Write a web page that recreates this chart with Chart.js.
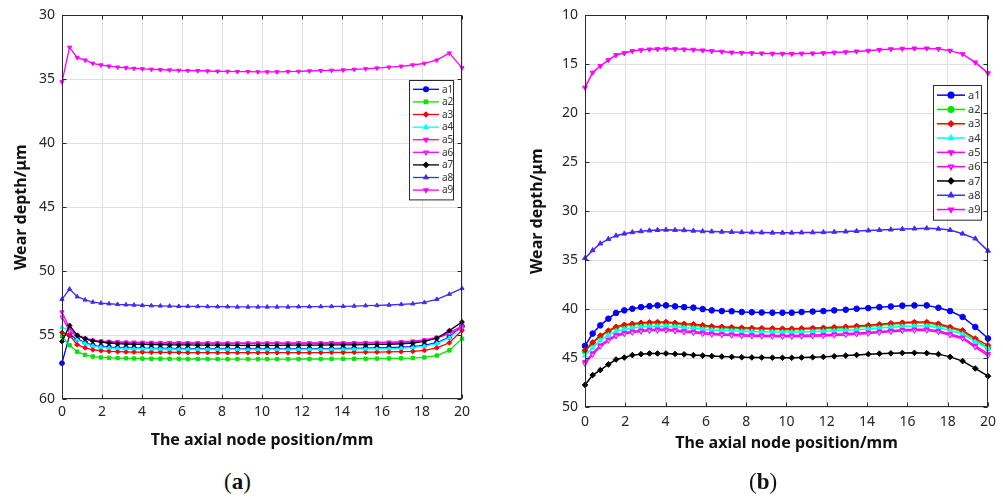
<!DOCTYPE html>
<html>
<head>
<meta charset="utf-8">
<script src="https://cdn.jsdelivr.net/npm/chart.js@4.4.1/dist/chart.umd.min.js"></script>
<style>
  html, body { margin: 0; padding: 0; background: #fff; }
  body { width: 1003px; height: 499px; position: relative; overflow: hidden; }
  .panel { position: absolute; top: 0; }
  #panelA { left: 0; width: 500px; height: 462px; }
  #panelB { left: 500px; width: 503px; height: 470px; }
  .caption { position: absolute; top: 469px; font-family: 'Liberation Serif', serif; font-size: 23px; color: #111; }
</style>
</head>
<body>
<div class="panel" id="panelA"><canvas id="chartA"></canvas></div>
<div class="panel" id="panelB"><canvas id="chartB"></canvas></div>
<div class="caption" style="left:224px">(<b>a</b>)</div>
<div class="caption" style="left:749px">(<b>b</b>)</div>
<script>
// axial node positions (mm), shared by both panels
const nodePos = [0, 0.38, 0.76, 1.16, 1.54, 1.95, 2.35, 2.78, 3.2, 3.6,
  4.02, 4.47, 4.92, 5.38, 5.84, 6.29, 6.79, 7.28, 7.78, 8.28,
  8.77, 9.3, 9.8, 10.26, 10.75, 11.3, 11.83, 12.37, 12.94, 13.48,
  14.06, 14.61, 15.18, 15.75, 16.35, 16.96, 17.54, 18.12, 18.74, 19.37,
  20];

const seriesNames = ["a1", "a2", "a3", "a4", "a5", "a6", "a7", "a8", "a9"];

// ---- panel (a) wear depth, um ----
const a1A = [57.2, 55.0, 55.3, 55.6, 55.8, 55.9, 55.95, 55.98, 56.0, 56.02,
  56.03, 56.04, 56.05, 56.05, 56.06, 56.06, 56.07, 56.07, 56.07, 56.08,
  56.08, 56.08, 56.08, 56.08, 56.08, 56.08, 56.07, 56.07, 56.06, 56.06,
  56.05, 56.04, 56.02, 56.0, 55.98, 55.95, 55.9, 55.8, 55.6, 55.15,
  54.3];
const a2A = [55.1, 55.8, 56.3, 56.55, 56.68, 56.75, 56.78, 56.8, 56.82, 56.83,
  56.84, 56.85, 56.85, 56.86, 56.86, 56.87, 56.87, 56.87, 56.88, 56.88,
  56.88, 56.88, 56.88, 56.88, 56.88, 56.88, 56.87, 56.87, 56.87, 56.86,
  56.86, 56.85, 56.85, 56.84, 56.83, 56.82, 56.8, 56.75, 56.6, 56.2,
  55.28];
const a3A = [54.8, 55.0, 55.75, 56.0, 56.15, 56.22, 56.27, 56.3, 56.32, 56.33,
  56.34, 56.35, 56.35, 56.36, 56.36, 56.37, 56.37, 56.37, 56.38, 56.38,
  56.38, 56.38, 56.38, 56.38, 56.38, 56.38, 56.37, 56.37, 56.37, 56.36,
  56.36, 56.35, 56.34, 56.33, 56.32, 56.3, 56.27, 56.2, 56.0, 55.6,
  54.63];
const a4A = [54.4, 54.6, 55.35, 55.65, 55.85, 55.95, 56.0, 56.03, 56.05, 56.06,
  56.07, 56.08, 56.09, 56.09, 56.1, 56.1, 56.11, 56.11, 56.11, 56.12,
  56.12, 56.12, 56.12, 56.12, 56.12, 56.12, 56.11, 56.11, 56.11, 56.1,
  56.1, 56.09, 56.08, 56.07, 56.05, 56.02, 55.97, 55.87, 55.67, 55.22,
  54.37];
const a5A = [53.2, 54.5, 55.0, 55.25, 55.4, 55.47, 55.5, 55.53, 55.55, 55.56,
  55.57, 55.58, 55.59, 55.59, 55.6, 55.6, 55.61, 55.61, 55.61, 55.62,
  55.62, 55.62, 55.62, 55.62, 55.62, 55.62, 55.61, 55.61, 55.61, 55.6,
  55.6, 55.59, 55.58, 55.57, 55.55, 55.52, 55.47, 55.38, 55.18, 54.8,
  54.3];
const a6A = [53.6, 54.7, 55.05, 55.3, 55.45, 55.52, 55.55, 55.58, 55.6, 55.61,
  55.62, 55.63, 55.64, 55.64, 55.65, 55.65, 55.66, 55.66, 55.66, 55.67,
  55.67, 55.67, 55.67, 55.67, 55.67, 55.67, 55.66, 55.66, 55.66, 55.65,
  55.65, 55.64, 55.63, 55.62, 55.6, 55.57, 55.52, 55.43, 55.23, 54.88,
  54.45];
const a7A = [55.5, 54.25, 55.02, 55.28, 55.46, 55.55, 55.62, 55.67, 55.7, 55.72,
  55.73, 55.74, 55.75, 55.76, 55.77, 55.77, 55.78, 55.78, 55.79, 55.79,
  55.8, 55.8, 55.8, 55.8, 55.8, 55.79, 55.79, 55.78, 55.78, 55.77,
  55.77, 55.76, 55.75, 55.73, 55.72, 55.68, 55.62, 55.5, 55.25, 54.65,
  53.98];
const a8A = [52.2, 51.4, 52.0, 52.25, 52.42, 52.5, 52.55, 52.6, 52.63, 52.65,
  52.68, 52.7, 52.72, 52.73, 52.75, 52.75, 52.76, 52.77, 52.78, 52.78,
  52.8, 52.8, 52.8, 52.8, 52.8, 52.8, 52.78, 52.78, 52.77, 52.76,
  52.75, 52.73, 52.7, 52.68, 52.65, 52.6, 52.55, 52.45, 52.2, 51.8,
  51.35];
const a9A = [35.2, 32.5, 33.3, 33.5, 33.75, 33.88, 33.97, 34.05, 34.1, 34.15,
  34.18, 34.22, 34.25, 34.27, 34.3, 34.32, 34.33, 34.35, 34.37, 34.38,
  34.4, 34.4, 34.42, 34.42, 34.42, 34.4, 34.38, 34.35, 34.32, 34.3,
  34.27, 34.22, 34.18, 34.12, 34.05, 33.98, 33.88, 33.75, 33.5, 32.95,
  34.1];

// ---- panel (b) wear depth, um ----
const a1B = [43.76, 42.5, 41.66, 40.98, 40.4, 40.13, 39.96, 39.8, 39.7, 39.62,
  39.62, 39.72, 39.8, 39.85, 40.0, 40.13, 40.2, 40.22, 40.3, 40.32,
  40.35, 40.37, 40.37, 40.37, 40.3, 40.25, 40.2, 40.13, 40.06, 39.96,
  39.9, 39.8, 39.73, 39.65, 39.62, 39.62, 39.86, 40.2, 40.8, 41.83,
  43.0];
const a2B = [44.3, 43.5, 42.8, 42.3, 41.9, 41.7, 41.6, 41.5, 41.45, 41.42,
  41.42, 41.5, 41.6, 41.65, 41.75, 41.85, 41.9, 41.95, 42.0, 42.03,
  42.05, 42.07, 42.1, 42.1, 42.07, 42.03, 42.0, 41.95, 41.9, 41.82,
  41.75, 41.65, 41.55, 41.48, 41.42, 41.42, 41.6, 41.95, 42.3, 43.15,
  43.95];
const a3B = [44.2, 43.4, 42.7, 42.2, 41.8, 41.6, 41.5, 41.4, 41.35, 41.32,
  41.32, 41.4, 41.5, 41.55, 41.65, 41.75, 41.8, 41.85, 41.9, 41.93,
  41.95, 41.97, 42.0, 42.0, 41.97, 41.93, 41.9, 41.85, 41.8, 41.72,
  41.65, 41.55, 41.45, 41.38, 41.32, 41.32, 41.49, 41.83, 42.17, 43.0,
  43.7];
const a4B = [44.75, 43.95, 43.2, 42.65, 42.25, 42.05, 41.92, 41.82, 41.77, 41.74,
  41.74, 41.8, 41.9, 41.95, 42.05, 42.13, 42.18, 42.22, 42.27, 42.3,
  42.32, 42.33, 42.35, 42.35, 42.33, 42.3, 42.27, 42.22, 42.17, 42.1,
  42.03, 41.93, 41.85, 41.78, 41.73, 41.73, 41.88, 42.2, 42.55, 43.35,
  44.0];
const a5B = [45.4, 44.5, 43.7, 43.1, 42.65, 42.42, 42.28, 42.17, 42.1, 42.07,
  42.07, 42.14, 42.24, 42.3, 42.4, 42.48, 42.54, 42.58, 42.63, 42.66,
  42.68, 42.69, 42.7, 42.7, 42.68, 42.65, 42.62, 42.57, 42.52, 42.45,
  42.38, 42.28, 42.2, 42.12, 42.07, 42.07, 42.22, 42.55, 42.9, 43.75,
  44.55];
const a6B = [45.6, 44.65, 43.83, 43.22, 42.77, 42.54, 42.4, 42.29, 42.22, 42.19,
  42.19, 42.26, 42.36, 42.42, 42.52, 42.6, 42.66, 42.7, 42.75, 42.78,
  42.8, 42.81, 42.82, 42.82, 42.8, 42.77, 42.74, 42.69, 42.64, 42.57,
  42.5, 42.4, 42.32, 42.24, 42.19, 42.19, 42.34, 42.67, 43.02, 43.9,
  44.75];
const a7B = [47.75, 46.74, 46.23, 45.65, 45.15, 44.95, 44.7, 44.6, 44.53, 44.53,
  44.53, 44.58, 44.62, 44.7, 44.75, 44.8, 44.85, 44.88, 44.92, 44.94,
  44.95, 44.96, 44.97, 44.97, 44.95, 44.92, 44.88, 44.82, 44.75, 44.68,
  44.6, 44.55, 44.52, 44.48, 44.47, 44.5, 44.6, 44.88, 45.31, 46.06,
  46.85];
const a8B = [34.8, 34.0, 33.3, 32.85, 32.5, 32.3, 32.15, 32.05, 31.98, 31.93,
  31.9, 31.92, 31.95, 32.0, 32.05, 32.08, 32.1, 32.13, 32.15, 32.17,
  32.18, 32.2, 32.2, 32.2, 32.18, 32.17, 32.15, 32.12, 32.08, 32.03,
  31.98, 31.93, 31.88, 31.83, 31.78, 31.75, 31.8, 31.93, 32.3, 32.8,
  34.05];
const a9B = [17.37, 15.84, 15.17, 14.56, 14.05, 13.85, 13.64, 13.54, 13.47, 13.44,
  13.4, 13.44, 13.47, 13.5, 13.57, 13.64, 13.7, 13.78, 13.82, 13.85,
  13.88, 13.9, 13.92, 13.92, 13.9, 13.88, 13.85, 13.8, 13.75, 13.68,
  13.6, 13.52, 13.45, 13.4, 13.37, 13.37, 13.42, 13.6, 13.95, 14.8,
  15.9];

// line / marker look of each series (matlab-ish colour codes)
const lineColors = ["#0000ff", "#00e600", "#ff0000", "#00ffff", "#ff00ff", "#ff00ff", "#000000", "#3333ff", "#ff00ff"];
const markerFill = ["#0000ff", "#00e600", "#ff0000", "#00ffff", "#ff00ff", "#8cc8ff", "#000000", "#a000e0", "#ff00ff"];
const markerRot = [0, 0, 0, 0, 180, 180, 0, 0, 180];

Chart.defaults.font.family = "'Noto Sans', sans-serif";
Chart.defaults.color = "#262626";

// box around the plot area with small inward ticks
const axesBox = {
  id: "axesBox",
  afterDatasetsDraw(chart) {
    const { ctx, chartArea: a, scales } = chart;
    ctx.save();
    ctx.strokeStyle = "#2a2a2a";
    ctx.lineWidth = 1;
    const L = Math.round(a.left) + 0.5, R = Math.round(a.right) - 0.5;
    const T = Math.round(a.top) + 0.5, B = Math.round(a.bottom) - 0.5;
    ctx.strokeRect(L, T, R - L, B - T);
    ctx.beginPath();
    scales.x.ticks.forEach((t) => {
      const px = Math.round(scales.x.getPixelForValue(t.value)) + 0.5;
      ctx.moveTo(px, B); ctx.lineTo(px, B - 4);
      ctx.moveTo(px, T); ctx.lineTo(px, T + 4);
    });
    scales.y.ticks.forEach((t) => {
      const py = Math.round(scales.y.getPixelForValue(t.value)) + 0.5;
      ctx.moveTo(L, py); ctx.lineTo(L + 4, py);
      ctx.moveTo(R, py); ctx.lineTo(R - 4, py);
    });
    ctx.stroke();
    ctx.restore();
  },
};

// legend box drawn inside the axes, upper right
const insideLegend = {
  id: "insideLegend",
  afterDraw(chart, args, opts) {
    const { ctx } = chart;
    const ds = chart.data.datasets;
    const h = opts.rowH * ds.length + 6;
    ctx.save();
    ctx.fillStyle = "#fff";
    ctx.fillRect(opts.left, opts.top, opts.width, h);
    ctx.strokeStyle = "#2a2a2a";
    ctx.lineWidth = 1;
    ctx.strokeRect(opts.left + 0.5, opts.top + 0.5, opts.width, h);
    ctx.font = opts.fontSize + "px 'Noto Sans', sans-serif";
    ctx.textBaseline = "middle";
    ds.forEach((d, i) => {
      const y = opts.top + 3 + opts.rowH * (i + 0.5);
      const x0 = opts.left + 4, x1 = x0 + opts.lineLen;
      ctx.strokeStyle = d.borderColor;
      ctx.lineWidth = d.borderWidth;
      ctx.beginPath();
      ctx.moveTo(x0, y);
      ctx.lineTo(x1, y);
      ctx.stroke();
      ctx.fillStyle = d.pointBackgroundColor;
      ctx.strokeStyle = d.pointBorderColor;
      Chart.helpers.drawPoint(ctx, {
        pointStyle: d.pointStyle, rotation: d.pointRotation,
        radius: d.pointRadius, borderWidth: d.pointBorderWidth,
      }, (x0 + x1) / 2, y);
      ctx.fillStyle = "#333";
      ctx.fillText(d.label, x1 + 3, y + 0.5);
    });
    ctx.restore();
  },
};

function buildDatasets(values, styles, radius, width) {
  return values.map((vals, i) => ({
    label: seriesNames[i],
    data: vals.map((v, k) => ({ x: nodePos[k], y: v })),
    borderColor: lineColors[i],
    borderWidth: width,
    pointStyle: styles[i],
    pointRotation: markerRot[i],
    pointRadius: radius,
    pointBackgroundColor: markerFill[i],
    pointBorderColor: lineColors[i],
    pointBorderWidth: 1,
    tension: 0,
    clip: false,
    order: 9 - i,
  }));
}

function buildOptions(cfg) {
  return {
    responsive: true,
    maintainAspectRatio: false,
    animation: false,
    layout: { padding: { left: 0, right: cfg.padRight, top: cfg.padTop, bottom: 0 } },
    plugins: {
      legend: { display: false },
      tooltip: { enabled: false },
      insideLegend: cfg.legend,
    },
    scales: {
      x: {
        type: "linear",
        min: 0,
        max: 20,
        ticks: { stepSize: 2, padding: cfg.xTickPad, font: { size: 14 }, maxRotation: 0 },
        grid: { color: "#e0e0e0", drawTicks: false },
        border: { display: false },
        title: {
          display: true,
          text: "The axial node position/mm",
          font: { size: 16, weight: "bold" },
          color: "#111",
          padding: { top: 0, bottom: cfg.xTitlePad },
        },
        afterFit: (s) => { s.height = cfg.xHeight; },
      },
      y: {
        type: "linear",
        reverse: true,
        min: cfg.yMin,
        max: cfg.yMax,
        ticks: { stepSize: 5, padding: 7, font: { size: 14 } },
        grid: { color: "#e0e0e0", drawTicks: false },
        border: { display: false },
        title: {
          display: true,
          text: "Wear depth/μm",
          font: { size: 16, weight: "bold" },
          color: "#111",
          padding: { top: cfg.yTitlePad, bottom: 0 },
        },
        afterFit: (s) => { s.width = cfg.yWidth; },
      },
    },
  };
}

const stylesA = ["circle", "rect", "rectRot", "triangle", "triangle", "triangle", "rectRot", "triangle", "triangle"];
const stylesB = ["circle", "circle", "rectRot", "triangle", "triangle", "triangle", "rectRot", "triangle", "triangle"];

new Chart(document.getElementById("chartA").getContext("2d"), {
  type: "line",
  data: { datasets: buildDatasets([a1A, a2A, a3A, a4A, a5A, a6A, a7A, a8A, a9A], stylesA, 2.4, 1.3) },
  options: buildOptions({
    yMin: 30, yMax: 60, padRight: 38, padTop: 13, yWidth: 62, xHeight: 63,
    xTickPad: 5, xTitlePad: 12, yTitlePad: 12,
    legend: { left: 409, top: 80, width: 44, rowH: 12.6, lineLen: 26, fontSize: 10 },
  }),
  plugins: [axesBox, insideLegend],
});

new Chart(document.getElementById("chartB").getContext("2d"), {
  type: "line",
  data: { datasets: buildDatasets([a1B, a2B, a3B, a4B, a5B, a6B, a7B, a8B, a9B], stylesB, 2.8, 1.5) },
  options: buildOptions({
    yMin: 10, yMax: 50, padRight: 15, padTop: 14, yWidth: 85, xHeight: 63,
    xTickPad: 7, xTitlePad: 17, yTitlePad: 28,
    legend: { left: 433, top: 85, width: 48, rowH: 14.3, lineLen: 28, fontSize: 11 },
  }),
  plugins: [axesBox, insideLegend],
});
</script>
</body>
</html>
